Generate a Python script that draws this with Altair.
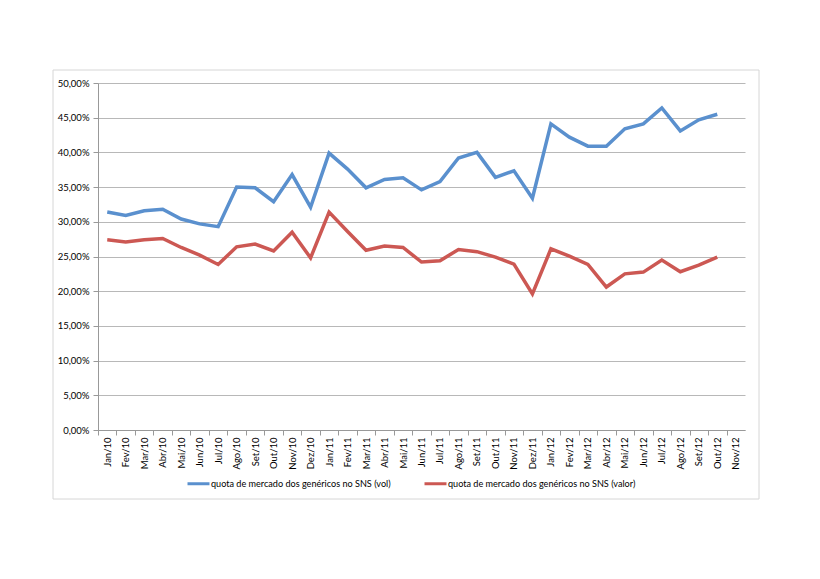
import altair as alt
import pandas as pd

months = ["Jan/10", "Fev/10", "Mar/10", "Abr/10", "Mai/10", "Jun/10", "Jul/10", "Ago/10", "Set/10", "Out/10", "Nov/10", "Dez/10",
          "Jan/11", "Fev/11", "Mar/11", "Abr/11", "Mai/11", "Jun/11", "Jul/11", "Ago/11", "Set/11", "Out/11", "Nov/11", "Dez/11",
          "Jan/12", "Fev/12", "Mar/12", "Abr/12", "Mai/12", "Jun/12", "Jul/12", "Ago/12", "Set/12", "Out/12", "Nov/12"]

vol = [31.4, 30.9, 31.6, 31.8, 30.4, 29.7, 29.3, 35.0, 34.9, 32.9, 36.8, 32.1,
       39.9, 37.6, 34.9, 36.1, 36.35, 34.6, 35.8, 39.2, 40.0, 36.4, 37.35, 33.4,
       44.1, 42.2, 40.9, 40.9, 43.4, 44.1, 46.4, 43.1, 44.7, 45.5, None]

valor = [27.4, 27.1, 27.4, 27.6, 26.3, 25.2, 23.85, 26.4, 26.8, 25.8, 28.5, 24.8,
         31.4, 28.6, 25.9, 26.5, 26.3, 24.2, 24.4, 26.0, 25.7, 24.9, 23.9, 19.6,
         26.1, 25.05, 23.85, 20.6, 22.5, 22.75, 24.5, 22.8, 23.75, 24.9, None]

series_names = ["quota de mercado dos genéricos no SNS (vol)",
                "quota de mercado dos genéricos no SNS (valor)"]
colors = ["#5A90CE", "#CC5853"]
y_ticks = [0, 0.05, 0.10, 0.15, 0.20, 0.25, 0.30, 0.35, 0.40, 0.45, 0.50]

rows = []
for s, vals in zip(series_names, [vol, valor]):
    for m, v in zip(months, vals):
        if v is not None:
            rows.append({"month": m, "value": v / 100.0, "series": s})
df = pd.DataFrame(rows)

FONT = "Lato"
W, H = 647, 347
step = W / len(months)

lines = alt.Chart(df).mark_line(strokeWidth=3.5, clip=False).encode(
    x=alt.X("month:O", sort=months, scale=alt.Scale(domain=months, padding=0.5),
            axis=alt.Axis(title=None, labelAngle=270, labelFontSize=9.5, labelFont=FONT,
                          labelColor="#000000", tickOffset=-step / 2, labelOffset=step / 2,
                          ticks=True, tickSize=5, tickColor="#999999", domainColor="#999999",
                          labelPadding=2, grid=False)),
    y=alt.Y("value:Q", scale=alt.Scale(domain=[0, 0.5], nice=False),
            axis=alt.Axis(title=None, values=y_ticks,
                          labelExpr="replace(format(datum.value, '.2%'), '.', ',')",
                          labelFontSize=9.5, labelFont=FONT, labelColor="#000000",
                          tickSize=5, tickColor="#999999", domainColor="#999999",
                          gridColor="#b8b8b8", gridWidth=1, labelPadding=4)),
    color=alt.Color("series:N", scale=alt.Scale(domain=series_names, range=colors),
                    legend=alt.Legend(title=None, orient="none", legendX=88, legendY=388,
                                      direction="horizontal", symbolType="stroke",
                                      symbolStrokeWidth=3, symbolSize=484, labelLimit=0,
                                      labelFont=FONT, labelFontSize=9.1, labelColor="#000000",
                                      columnPadding=27, labelOffset=0, symbolOffset=0)),
)

frame = alt.Chart(alt.Data(values=[{}])).mark_rect(
    fill=None, stroke="#d6d6d6", strokeWidth=1, clip=False
).encode(
    x=alt.value(-45), x2=alt.value(661), y=alt.value(-13), y2=alt.value(416)
)

chart = alt.layer(frame, lines).properties(
    width=W, height=H,
    autosize=alt.AutoSizeParams(type="none"),
    padding={"left": 90, "top": 75, "right": 67, "bottom": 141},
).configure_view(stroke=None)

chart.save("out.html", embed_options={"renderer": "svg", "actions": False})
